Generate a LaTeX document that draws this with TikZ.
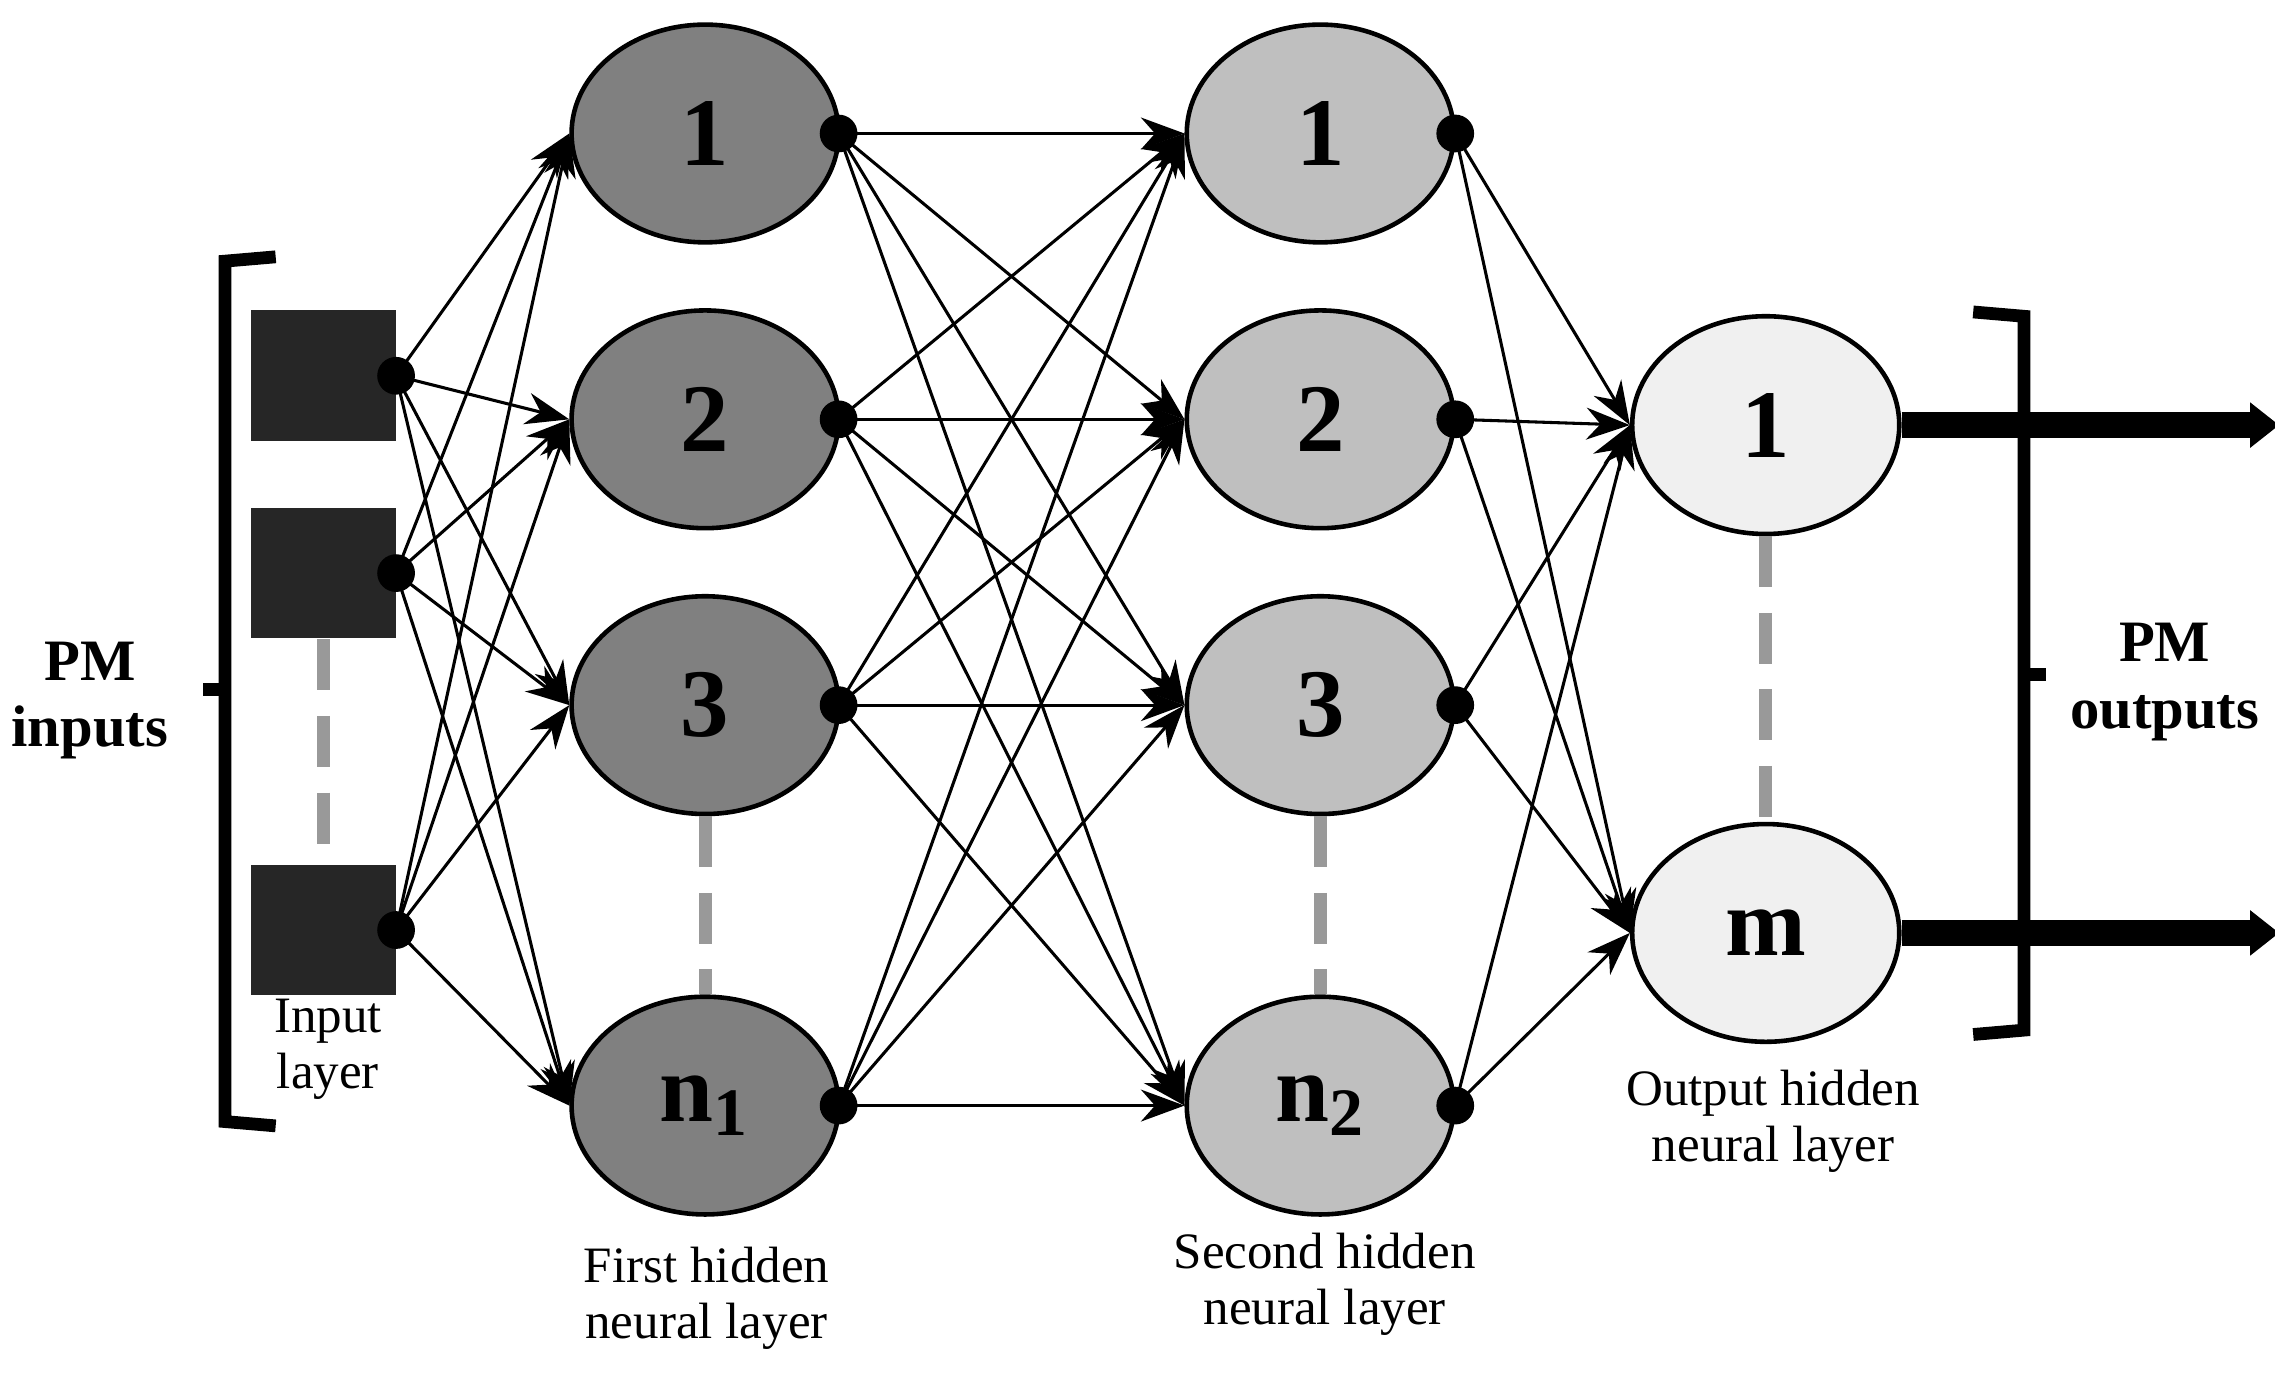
\documentclass[tikz,border=0pt]{standalone}
\usepackage{fontspec}
\setmainfont{Liberation Serif}
\usetikzlibrary{arrows.meta,shapes.geometric}
\begin{document}
\begin{tikzpicture}[x=0.01cm,y=-0.01cm,
 neu/.style={draw,line width=0.9pt,shape=ellipse,minimum width=1.84cm,minimum height=1.5cm,font=\fontsize{19}{19}\bfseries\selectfont},
 sq/.style={fill=black!85,minimum width=1cm,minimum height=0.9cm,inner sep=0pt},
 dot/.style={circle,fill=black,minimum size=0.26cm,inner sep=0pt},
 con/.style={line width=0.6pt,-{Stealth[length=0.3cm,width=0.22cm]}},
 dsh/.style={gray!80,line width=2.5pt,dash pattern=on 10pt off 5pt},
 lab/.style={align=center,font=\fontsize{10}{11}\selectfont},
 blab/.style={align=center,font=\fontsize{11.5}{13}\bfseries\selectfont}]
\useasboundingbox (0,0) rectangle (1568,948);
% inputs
\foreach \i/\y in {1/259,2/395,3/641}{
 \node[sq] (s\i) at (223,\y) {};
 \node[dot] (d\i) at (273,\y) {};}
\draw[dsh] (s2.south) -- (s3.north);
% layer 1
\foreach \i/\y/\t in {1/92/1,2/289/2,3/486/3,4/762/{n$_\mathbf{1}$}}{
 \node[neu,fill=black!50] (a\i) at (486,\y) {\t};
 \node[dot] (ad\i) at (578,\y) {};}
% layer 2
\foreach \i/\y/\t in {1/92/1,2/289/2,3/486/3,4/762/{n$_\mathbf{2}$}}{
 \node[neu,fill=black!25] (b\i) at (910,\y) {\t};
 \node[dot] (bd\i) at (1003,\y) {};}
% outputs
\node[neu,fill=black!6] (o1) at (1217,293) {1};
\node[neu,fill=black!6] (o2) at (1217,643) {m};
\draw[dsh] (a3.south) -- (a4.north);
\draw[dsh] (b3.south) -- (b4.north);
\draw[dsh] (o1.south) -- (o2.north);
% connections
\foreach \i in {1,2,3}\foreach \j in {1,2,3,4}{\draw[con] (d\i.center) -- (a\j.west);}
\foreach \i in {1,2,3,4}\foreach \j in {1,2,3,4}{\draw[con] (ad\i.center) -- (b\j.west);}
\foreach \i in {1,2,3,4}\foreach \j in {1,2}{\draw[con] (bd\i.center) -- (o\j.west);}
% output arrows
\foreach \j in {1,2}{
 \coordinate (e\j) at ([xshift=74]o\j.east);
 \draw[line width=5pt,-{Triangle[length=0.2cm,width=0.3cm]}] (o\j.east) -- (e\j);}
% brackets
\draw[line width=2.5pt] (190,177) -- (155,180) -- (155,773) -- (190,776);
\draw[line width=2.5pt] (155,475) -- (140,475);
\draw[line width=2.5pt] (1360,215) -- (1395,218) -- (1395,710) -- (1360,713);
\draw[line width=2.5pt] (1395,465) -- (1410,465);
% labels
\node[blab] (pmi) at (62,483) {PM\\inputs};
\node[blab] (pmo) at (1492,470) {PM\\outputs};
\node[lab] (il) at (226,723) {Input\\layer};
\node[lab] (l1) at (487,895) {First hidden\\neural layer};
\node[lab] (l2) at (913,885) {Second hidden\\neural layer};
\node[lab] (l3) at (1222,773) {Output hidden\\neural layer};
\end{tikzpicture}
\end{document}
